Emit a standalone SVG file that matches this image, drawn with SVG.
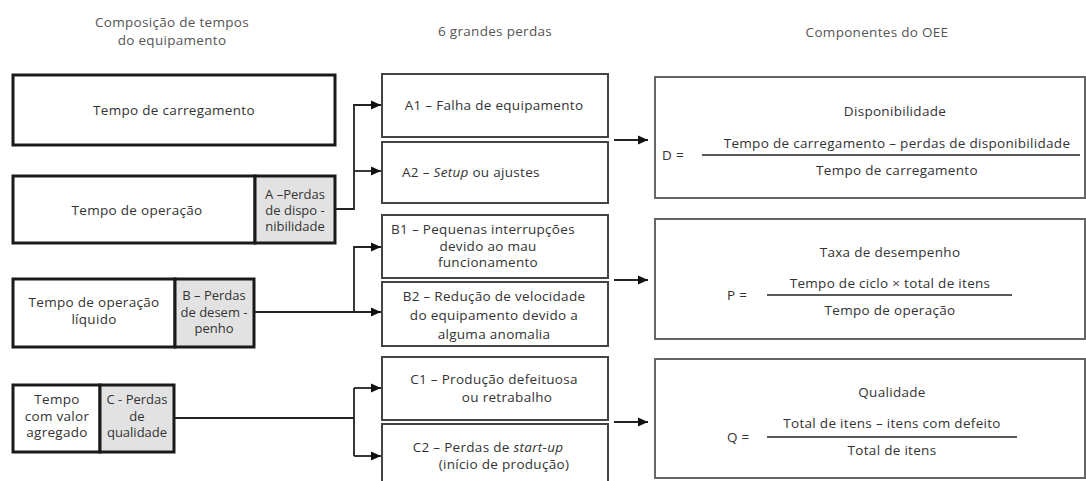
<svg xmlns="http://www.w3.org/2000/svg" width="1086" height="481" viewBox="0 0 1086 481">
<style>
text{font-family:"Open Sans","Liberation Sans",sans-serif;font-size:13.5px;letter-spacing:0.3px;fill:#333;text-anchor:middle}
.hd{font-size:13.5px;fill:#555}
.sm{font-size:13px;letter-spacing:0}
.lb{stroke:#1a1a1a;stroke-width:3;fill:#fff}
.lg{stroke:#1a1a1a;stroke-width:3;fill:#e2e2e2}
.mb{stroke:#444;stroke-width:2;fill:#fff}
.rb{stroke:#666;stroke-width:2;fill:#fff}
.cn{stroke:#222;stroke-width:1.8;fill:none}
.fl{stroke:#222;stroke-width:1.6}
.it{font-style:italic}
.st{text-anchor:start}
</style>
<defs>
<marker id="ah" markerUnits="userSpaceOnUse" markerWidth="11" markerHeight="10" refX="10" refY="5" orient="auto">
<path d="M0,0.5 L10,5 L0,9.5 z" fill="#111"/>
</marker>
</defs>
<rect width="1086" height="481" fill="#fff"/>
<g id="headers">
<text class="hd" x="172" y="27">Composição de tempos</text>
<text class="hd" x="172" y="45">do equipamento</text>
<text class="hd" x="495" y="36">6 grandes perdas</text>
<text class="hd" x="877" y="37">Componentes do OEE</text>
</g>
<g id="tempo-carregamento">
<rect class="lb" x="13" y="75" width="322" height="70"/>
<text x="174" y="115">Tempo de carregamento</text>
</g>
<g id="tempo-operacao">
<rect class="lb" x="13" y="176" width="242" height="67"/>
<rect class="lg" x="255" y="176" width="80" height="67"/>
<text x="137" y="215">Tempo de operação</text>
<text class="sm" x="295" y="199">A –Perdas</text>
<text class="sm" x="295" y="215">de dispo -</text>
<text class="sm" x="295" y="231">nibilidade</text>
</g>
<g id="tempo-operacao-liquido">
<rect class="lb" x="13" y="279" width="162" height="68"/>
<rect class="lg" x="175" y="279" width="79" height="68"/>
<text x="94" y="307">Tempo de operação</text>
<text x="94" y="324">líquido</text>
<text class="sm" x="214" y="300">B – Perdas</text>
<text class="sm" x="214" y="317">de desem -</text>
<text class="sm" x="214" y="333">penho</text>
</g>
<g id="tempo-valor-agregado">
<rect class="lb" x="13" y="385" width="87" height="67"/>
<rect class="lg" x="100" y="385" width="74" height="67"/>
<text x="57" y="404">Tempo</text>
<text x="57" y="421">com valor</text>
<text x="57" y="437">agregado</text>
<text class="sm" x="137" y="404">C - Perdas</text>
<text class="sm" x="137" y="421">de</text>
<text class="sm" x="137" y="437">qualidade</text>
</g>
<g id="A1">
<rect class="mb" x="382" y="74" width="226" height="63"/>
<text x="494" y="110">A1 – Falha de equipamento</text>
</g>
<g id="A2">
<rect class="mb" x="382" y="142" width="226" height="61"/>
<text class="st" x="402" y="177">A2 – <tspan class="it">Setup</tspan> ou ajustes</text>
</g>
<g id="B1">
<rect class="mb" x="382" y="215" width="226" height="63"/>
<text x="483" y="234">B1 – Pequenas interrupções</text>
<text x="488" y="251">devido ao mau</text>
<text x="488" y="267">funcionamento</text>
</g>
<g id="B2">
<rect class="mb" x="382" y="282" width="226" height="64"/>
<text x="494" y="301">B2 – Redução de velocidade</text>
<text x="494" y="320">do equipamento devido a</text>
<text x="494" y="339">alguma anomalia</text>
</g>
<g id="C1">
<rect class="mb" x="382" y="357" width="226" height="63"/>
<text x="494" y="384">C1 – Produção defeituosa</text>
<text x="507" y="402">ou retrabalho</text>
</g>
<g id="C2">
<rect class="mb" x="382" y="424" width="226" height="70"/>
<text x="488" y="452">C2 – Perdas de <tspan class="it">start-up</tspan></text>
<text x="504" y="469">(início de produção)</text>
</g>
<g id="disponibilidade">
<rect class="rb" x="655" y="77" width="430" height="121"/>
<text x="895" y="116">Disponibilidade</text>
<text class="st" x="662" y="160">D =</text>
<line class="fl" x1="702" y1="155" x2="1080" y2="155"/>
<text x="897" y="148">Tempo de carregamento – perdas de disponibilidade</text>
<text x="897" y="175">Tempo de carregamento</text>
</g>
<g id="desempenho">
<rect class="rb" x="655" y="219" width="430" height="120"/>
<text x="890" y="257">Taxa de desempenho</text>
<text class="st" x="727" y="300">P =</text>
<line class="fl" x1="767" y1="295" x2="1012" y2="295"/>
<text x="890" y="288">Tempo de ciclo  × total de itens</text>
<text x="890" y="315">Tempo de operação</text>
</g>
<g id="qualidade">
<rect class="rb" x="655" y="359" width="430" height="119"/>
<text x="892" y="397">Qualidade</text>
<text class="st" x="727" y="442">Q =</text>
<line class="fl" x1="767" y1="437" x2="1017" y2="437"/>
<text x="892" y="428">Total de itens – itens com defeito</text>
<text x="892" y="455">Total de itens</text>
</g>
<g id="connectors">
<path class="cn" d="M335,209 H354 V105 H381" marker-end="url(#ah)"/>
<path class="cn" d="M354,171 H381" marker-end="url(#ah)"/>
<path class="cn" d="M254,312 H381" marker-end="url(#ah)"/>
<path class="cn" d="M354,312 V247 H381" marker-end="url(#ah)"/>
<path class="cn" d="M174,418 H354"/>
<path class="cn" d="M354,388 V456"/>
<path class="cn" d="M354,388 H381" marker-end="url(#ah)"/>
<path class="cn" d="M354,456 H381" marker-end="url(#ah)"/>
<path class="cn" d="M614,140 H648" marker-end="url(#ah)"/>
<path class="cn" d="M614,280 H648" marker-end="url(#ah)"/>
<path class="cn" d="M614,422 H648" marker-end="url(#ah)"/>
</g>
</svg>
